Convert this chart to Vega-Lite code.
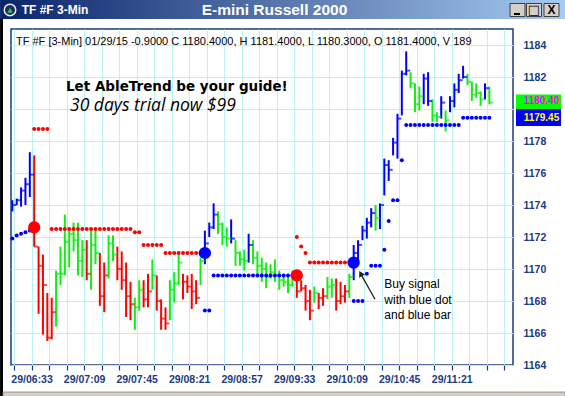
{
  "$schema": "https://vega.github.io/schema/vega-lite/v6.json",
  "width": 502,
  "height": 336,
  "autosize": {"type": "none"},
  "padding": {"left": 11, "top": 29, "right": 52, "bottom": 31},
  "background": "#ffffff",
  "config": {
    "view": {"stroke": "#1b3a80", "strokeWidth": 1.5},
    "font": "Liberation Sans",
    "axisX": {"domain": false, "grid": true, "gridColor": "#bdf2f2", "gridWidth": 1, "ticks": true, "tickSize": 5, "tickColor": "#1b3a80", "tickWidth": 1.2,
      "labelFont": "Liberation Sans", "labelFontWeight": "bold", "labelFontSize": 10.5, "labelColor": "#1b3a80", "labelPadding": 4, "labelOverlap": false, "labelFlush": false, "title": null},
    "axisY": {"domain": false, "grid": true, "gridColor": "#bdf2f2", "gridWidth": 1, "ticks": false,
      "labelFont": "Liberation Sans", "labelFontWeight": "bold", "labelFontSize": 10.5, "labelColor": "#1b3a80", "labelAlign": "left", "labelBaseline": "middle", "labelPadding": 10, "labelFlush": false, "title": null}
  },
  "datasets": {
    "bars": [
      {"i": -5, "h": 1174.3, "l": 1173.6, "c": 1174.0, "t": "up"},
      {"i": -4, "h": 1174.4, "l": 1174.0, "c": 1174.3, "t": "up"},
      {"i": -3, "h": 1175.1, "l": 1173.9, "c": 1174.9, "t": "up"},
      {"i": -2, "h": 1175.7, "l": 1174.0, "c": 1175.3, "t": "up"},
      {"i": -1, "h": 1177.3, "l": 1174.5, "c": 1175.9, "t": "up"},
      {"i": 0, "h": 1177.1, "l": 1171.4, "c": 1171.4, "t": "down"},
      {"i": 1, "h": 1171.4, "l": 1167.2, "c": 1170.2, "t": "down"},
      {"i": 2, "h": 1170.9, "l": 1165.9, "c": 1169.0, "t": "down"},
      {"i": 3, "h": 1168.5, "l": 1165.5, "c": 1165.7, "t": "down"},
      {"i": 4, "h": 1168.2, "l": 1165.6, "c": 1167.3, "t": "down"},
      {"i": 5, "h": 1169.9, "l": 1166.4, "c": 1169.7, "t": "flat"},
      {"i": 6, "h": 1171.4, "l": 1169.0, "c": 1169.7, "t": "flat"},
      {"i": 7, "h": 1173.4, "l": 1169.6, "c": 1171.7, "t": "flat"},
      {"i": 8, "h": 1172.6, "l": 1170.1, "c": 1172.2, "t": "flat"},
      {"i": 9, "h": 1172.9, "l": 1171.1, "c": 1171.8, "t": "flat"},
      {"i": 10, "h": 1172.9, "l": 1169.6, "c": 1170.5, "t": "flat"},
      {"i": 11, "h": 1171.8, "l": 1169.5, "c": 1171.2, "t": "flat"},
      {"i": 12, "h": 1171.8, "l": 1169.3, "c": 1169.7, "t": "down"},
      {"i": 13, "h": 1172.5, "l": 1168.7, "c": 1171.5, "t": "flat"},
      {"i": 14, "h": 1172.4, "l": 1170.3, "c": 1171.0, "t": "flat"},
      {"i": 15, "h": 1171.0, "l": 1167.7, "c": 1168.3, "t": "down"},
      {"i": 16, "h": 1170.4, "l": 1167.3, "c": 1169.6, "t": "down"},
      {"i": 17, "h": 1172.1, "l": 1169.4, "c": 1171.6, "t": "flat"},
      {"i": 18, "h": 1172.1, "l": 1170.5, "c": 1170.9, "t": "flat"},
      {"i": 19, "h": 1171.4, "l": 1169.3, "c": 1170.0, "t": "down"},
      {"i": 20, "h": 1171.1, "l": 1168.7, "c": 1169.3, "t": "down"},
      {"i": 21, "h": 1170.4, "l": 1167.0, "c": 1168.3, "t": "down"},
      {"i": 22, "h": 1169.2, "l": 1166.8, "c": 1167.8, "t": "down"},
      {"i": 23, "h": 1168.2, "l": 1166.2, "c": 1167.6, "t": "flat"},
      {"i": 24, "h": 1169.3, "l": 1167.4, "c": 1168.7, "t": "flat"},
      {"i": 25, "h": 1169.3, "l": 1167.6, "c": 1168.1, "t": "down"},
      {"i": 26, "h": 1169.7, "l": 1167.6, "c": 1168.6, "t": "down"},
      {"i": 27, "h": 1170.6, "l": 1168.7, "c": 1169.6, "t": "flat"},
      {"i": 28, "h": 1169.6, "l": 1167.4, "c": 1168.0, "t": "down"},
      {"i": 29, "h": 1168.1, "l": 1166.2, "c": 1166.9, "t": "down"},
      {"i": 30, "h": 1167.6, "l": 1166.2, "c": 1166.6, "t": "down"},
      {"i": 31, "h": 1169.3, "l": 1166.8, "c": 1168.7, "t": "flat"},
      {"i": 32, "h": 1169.8, "l": 1167.9, "c": 1169.1, "t": "flat"},
      {"i": 33, "h": 1171.1, "l": 1169.0, "c": 1170.4, "t": "flat"},
      {"i": 34, "h": 1169.7, "l": 1168.1, "c": 1169.2, "t": "down"},
      {"i": 35, "h": 1169.6, "l": 1168.5, "c": 1168.9, "t": "down"},
      {"i": 36, "h": 1169.7, "l": 1167.5, "c": 1168.6, "t": "down"},
      {"i": 37, "h": 1169.3, "l": 1167.8, "c": 1168.2, "t": "down"},
      {"i": 38, "h": 1170.7, "l": 1169.0, "c": 1170.5, "t": "flat"},
      {"i": 39, "h": 1172.4, "l": 1170.3, "c": 1171.6, "t": "up"},
      {"i": 40, "h": 1172.9, "l": 1172.0, "c": 1172.6, "t": "up"},
      {"i": 41, "h": 1174.1, "l": 1172.5, "c": 1173.4, "t": "up"},
      {"i": 42, "h": 1173.6, "l": 1172.2, "c": 1172.8, "t": "flat"},
      {"i": 43, "h": 1172.9, "l": 1171.5, "c": 1172.0, "t": "flat"},
      {"i": 44, "h": 1172.6, "l": 1171.4, "c": 1171.9, "t": "flat"},
      {"i": 45, "h": 1173.1, "l": 1171.6, "c": 1171.9, "t": "up"},
      {"i": 46, "h": 1171.8, "l": 1170.2, "c": 1171.0, "t": "flat"},
      {"i": 47, "h": 1171.1, "l": 1170.2, "c": 1170.6, "t": "flat"},
      {"i": 48, "h": 1171.2, "l": 1169.9, "c": 1170.5, "t": "flat"},
      {"i": 49, "h": 1172.2, "l": 1170.4, "c": 1171.5, "t": "up"},
      {"i": 50, "h": 1171.8, "l": 1170.3, "c": 1170.7, "t": "flat"},
      {"i": 51, "h": 1171.1, "l": 1169.7, "c": 1170.2, "t": "flat"},
      {"i": 52, "h": 1170.7, "l": 1169.2, "c": 1170.0, "t": "flat"},
      {"i": 53, "h": 1170.4, "l": 1168.8, "c": 1169.5, "t": "flat"},
      {"i": 54, "h": 1170.3, "l": 1169.4, "c": 1169.8, "t": "flat"},
      {"i": 55, "h": 1170.6, "l": 1169.2, "c": 1169.6, "t": "flat"},
      {"i": 56, "h": 1169.9, "l": 1168.7, "c": 1169.3, "t": "flat"},
      {"i": 57, "h": 1169.7, "l": 1168.9, "c": 1169.2, "t": "flat"},
      {"i": 58, "h": 1169.6, "l": 1168.5, "c": 1169.0, "t": "flat"},
      {"i": 59, "h": 1169.9, "l": 1168.9, "c": 1169.4, "t": "flat"},
      {"i": 60, "h": 1169.9, "l": 1168.2, "c": 1168.6, "t": "down"},
      {"i": 61, "h": 1169.3, "l": 1168.6, "c": 1168.8, "t": "down"},
      {"i": 62, "h": 1169.0, "l": 1167.4, "c": 1168.0, "t": "down"},
      {"i": 63, "h": 1168.7, "l": 1166.8, "c": 1167.4, "t": "down"},
      {"i": 64, "h": 1168.9, "l": 1167.9, "c": 1168.5, "t": "flat"},
      {"i": 65, "h": 1168.5, "l": 1167.5, "c": 1168.2, "t": "down"},
      {"i": 66, "h": 1168.8, "l": 1167.7, "c": 1168.3, "t": "down"},
      {"i": 67, "h": 1169.5, "l": 1168.1, "c": 1168.9, "t": "flat"},
      {"i": 68, "h": 1169.4, "l": 1168.2, "c": 1169.0, "t": "flat"},
      {"i": 69, "h": 1169.4, "l": 1167.4, "c": 1168.0, "t": "down"},
      {"i": 70, "h": 1169.2, "l": 1167.8, "c": 1168.3, "t": "down"},
      {"i": 71, "h": 1169.0, "l": 1167.9, "c": 1168.6, "t": "down"},
      {"i": 72, "h": 1169.7, "l": 1168.2, "c": 1169.5, "t": "flat"},
      {"i": 73, "h": 1171.5, "l": 1169.3, "c": 1171.0, "t": "up"},
      {"i": 74, "h": 1171.8, "l": 1170.3, "c": 1171.5, "t": "up"},
      {"i": 75, "h": 1172.7, "l": 1171.8, "c": 1172.4, "t": "up"},
      {"i": 76, "h": 1173.2, "l": 1171.9, "c": 1172.9, "t": "up"},
      {"i": 77, "h": 1173.8, "l": 1172.6, "c": 1173.5, "t": "up"},
      {"i": 78, "h": 1174.0, "l": 1172.4, "c": 1173.2, "t": "flat"},
      {"i": 79, "h": 1174.1, "l": 1172.5, "c": 1174.0, "t": "up"},
      {"i": 80, "h": 1176.9, "l": 1174.6, "c": 1176.5, "t": "up"},
      {"i": 81, "h": 1176.8, "l": 1175.5, "c": 1176.2, "t": "up"},
      {"i": 82, "h": 1178.2, "l": 1177.1, "c": 1177.9, "t": "up"},
      {"i": 83, "h": 1179.7, "l": 1176.9, "c": 1179.4, "t": "up"},
      {"i": 84, "h": 1182.4, "l": 1179.6, "c": 1182.2, "t": "up"},
      {"i": 85, "h": 1183.6, "l": 1182.1, "c": 1182.4, "t": "up"},
      {"i": 86, "h": 1182.3, "l": 1181.3, "c": 1181.6, "t": "flat"},
      {"i": 87, "h": 1181.6, "l": 1179.8, "c": 1180.3, "t": "flat"},
      {"i": 88, "h": 1181.4, "l": 1179.9, "c": 1180.8, "t": "flat"},
      {"i": 89, "h": 1182.2, "l": 1180.3, "c": 1181.9, "t": "up"},
      {"i": 90, "h": 1182.3, "l": 1180.2, "c": 1180.5, "t": "up"},
      {"i": 91, "h": 1180.6, "l": 1179.2, "c": 1179.6, "t": "flat"},
      {"i": 92, "h": 1179.8, "l": 1179.2, "c": 1179.5, "t": "flat"},
      {"i": 93, "h": 1180.8, "l": 1179.4, "c": 1180.4, "t": "up"},
      {"i": 94, "h": 1179.9, "l": 1178.6, "c": 1179.3, "t": "flat"},
      {"i": 95, "h": 1180.8, "l": 1179.8, "c": 1180.5, "t": "up"},
      {"i": 96, "h": 1181.6, "l": 1180.1, "c": 1181.2, "t": "up"},
      {"i": 97, "h": 1182.2, "l": 1181.0, "c": 1181.8, "t": "up"},
      {"i": 98, "h": 1182.7, "l": 1181.9, "c": 1182.0, "t": "up"},
      {"i": 99, "h": 1182.2, "l": 1181.5, "c": 1181.7, "t": "flat"},
      {"i": 100, "h": 1181.7, "l": 1180.5, "c": 1180.9, "t": "flat"},
      {"i": 101, "h": 1181.6, "l": 1180.7, "c": 1181.0, "t": "flat"},
      {"i": 102, "h": 1181.1, "l": 1180.2, "c": 1180.6, "t": "flat"},
      {"i": 103, "h": 1181.6, "l": 1180.6, "c": 1181.3, "t": "up"},
      {"i": 104, "h": 1181.4, "l": 1180.3, "c": 1180.4, "t": "flat"}
    ],
    "dots": [
      {"i": -5, "v": 1171.9, "t": "up"}, {"i": -4, "v": 1172.1, "t": "up"}, {"i": -3, "v": 1172.2, "t": "up"}, {"i": -2, "v": 1172.3, "t": "up"}, {"i": -1, "v": 1172.4, "t": "up"},
      {"i": 0, "v": 1178.75, "t": "down"}, {"i": 1, "v": 1178.75, "t": "down"}, {"i": 2, "v": 1178.75, "t": "down"}, {"i": 3, "v": 1178.75, "t": "down"},
      {"i": 4, "v": 1172.5, "t": "down"}, {"i": 5, "v": 1172.5, "t": "down"}, {"i": 6, "v": 1172.5, "t": "down"}, {"i": 7, "v": 1172.5, "t": "down"}, {"i": 8, "v": 1172.5, "t": "down"}, {"i": 9, "v": 1172.5, "t": "down"}, {"i": 10, "v": 1172.5, "t": "down"}, {"i": 11, "v": 1172.5, "t": "down"}, {"i": 12, "v": 1172.5, "t": "down"}, {"i": 13, "v": 1172.5, "t": "down"}, {"i": 14, "v": 1172.5, "t": "down"}, {"i": 15, "v": 1172.5, "t": "down"}, {"i": 16, "v": 1172.5, "t": "down"}, {"i": 17, "v": 1172.5, "t": "down"}, {"i": 18, "v": 1172.5, "t": "down"}, {"i": 19, "v": 1172.5, "t": "down"}, {"i": 20, "v": 1172.5, "t": "down"}, {"i": 21, "v": 1172.5, "t": "down"}, {"i": 22, "v": 1172.5, "t": "down"},
      {"i": 23, "v": 1172.3, "t": "down"}, {"i": 24, "v": 1172.3, "t": "down"},
      {"i": 25, "v": 1171.5, "t": "down"}, {"i": 26, "v": 1171.5, "t": "down"}, {"i": 27, "v": 1171.5, "t": "down"}, {"i": 28, "v": 1171.5, "t": "down"}, {"i": 29, "v": 1171.5, "t": "down"},
      {"i": 30, "v": 1171.0, "t": "down"}, {"i": 31, "v": 1171.0, "t": "down"}, {"i": 32, "v": 1171.0, "t": "down"}, {"i": 33, "v": 1171.0, "t": "down"}, {"i": 34, "v": 1171.0, "t": "down"}, {"i": 35, "v": 1171.0, "t": "down"}, {"i": 36, "v": 1171.0, "t": "down"}, {"i": 37, "v": 1171.0, "t": "down"}, {"i": 38, "v": 1171.0, "t": "down"},
      {"i": 39, "v": 1167.4, "t": "up"}, {"i": 40, "v": 1167.4, "t": "up"},
      {"i": 41, "v": 1169.6, "t": "up"}, {"i": 42, "v": 1169.6, "t": "up"}, {"i": 43, "v": 1169.6, "t": "up"}, {"i": 44, "v": 1169.6, "t": "up"}, {"i": 45, "v": 1169.6, "t": "up"}, {"i": 46, "v": 1169.6, "t": "up"}, {"i": 47, "v": 1169.6, "t": "up"}, {"i": 48, "v": 1169.6, "t": "up"}, {"i": 49, "v": 1169.6, "t": "up"}, {"i": 50, "v": 1169.6, "t": "up"}, {"i": 51, "v": 1169.6, "t": "up"}, {"i": 52, "v": 1169.6, "t": "up"}, {"i": 53, "v": 1169.6, "t": "up"}, {"i": 54, "v": 1169.6, "t": "up"}, {"i": 55, "v": 1169.6, "t": "up"}, {"i": 56, "v": 1169.6, "t": "up"}, {"i": 57, "v": 1169.6, "t": "up"}, {"i": 58, "v": 1169.6, "t": "up"}, {"i": 59, "v": 1169.6, "t": "up"},
      {"i": 60, "v": 1172.0, "t": "down"}, {"i": 61, "v": 1171.4, "t": "down"}, {"i": 62, "v": 1171.0, "t": "down"},
      {"i": 63, "v": 1170.4, "t": "down"}, {"i": 64, "v": 1170.4, "t": "down"}, {"i": 65, "v": 1170.4, "t": "down"}, {"i": 66, "v": 1170.4, "t": "down"}, {"i": 67, "v": 1170.4, "t": "down"}, {"i": 68, "v": 1170.4, "t": "down"}, {"i": 69, "v": 1170.4, "t": "down"}, {"i": 70, "v": 1170.4, "t": "down"}, {"i": 71, "v": 1170.4, "t": "down"}, {"i": 72, "v": 1170.4, "t": "down"},
      {"i": 73, "v": 1168.0, "t": "up"}, {"i": 74, "v": 1168.0, "t": "up"}, {"i": 75, "v": 1168.0, "t": "up"}, {"i": 76, "v": 1169.7, "t": "up"},
      {"i": 77, "v": 1170.2, "t": "up"}, {"i": 78, "v": 1170.2, "t": "up"}, {"i": 79, "v": 1170.2, "t": "up"}, {"i": 80, "v": 1171.2, "t": "up"}, {"i": 81, "v": 1173.0, "t": "up"},
      {"i": 82, "v": 1174.3, "t": "up"}, {"i": 83, "v": 1174.3, "t": "up"}, {"i": 84, "v": 1176.8, "t": "up"},
      {"i": 85, "v": 1179.0, "t": "up"}, {"i": 86, "v": 1179.0, "t": "up"}, {"i": 87, "v": 1179.0, "t": "up"}, {"i": 88, "v": 1179.0, "t": "up"}, {"i": 89, "v": 1179.0, "t": "up"}, {"i": 90, "v": 1179.0, "t": "up"}, {"i": 91, "v": 1179.0, "t": "up"}, {"i": 92, "v": 1179.0, "t": "up"}, {"i": 93, "v": 1179.0, "t": "up"}, {"i": 94, "v": 1179.0, "t": "up"}, {"i": 95, "v": 1179.0, "t": "up"}, {"i": 96, "v": 1179.0, "t": "up"}, {"i": 97, "v": 1179.0, "t": "up"},
      {"i": 98, "v": 1179.45, "t": "up"}, {"i": 99, "v": 1179.45, "t": "up"}, {"i": 100, "v": 1179.45, "t": "up"}, {"i": 101, "v": 1179.45, "t": "up"}, {"i": 102, "v": 1179.45, "t": "up"}, {"i": 103, "v": 1179.45, "t": "up"}, {"i": 104, "v": 1179.45, "t": "up"}
    ],
    "signals": [
      {"i": 0, "v": 1172.6, "t": "down"},
      {"i": 39, "v": 1171.0, "t": "up"},
      {"i": 60, "v": 1169.6, "t": "down"},
      {"i": 73, "v": 1170.4, "t": "up"}
    ]
  },
  "encoding": {
    "x": {"type": "quantitative", "title": null, "scale": {"domain": [-5.3, 109.4], "nice": false, "zero": false},
      "axis": {"title": null, "orient": "bottom",
        "values": [-4.6, -0.6, 3.4, 7.4, 11.4, 15.4, 19.4, 23.4, 27.4, 31.4, 35.4, 39.4, 43.4, 47.4, 51.4, 55.4, 59.4, 63.4, 67.4, 71.4, 75.4, 79.4, 83.4, 87.4, 91.4, 95.4, 99.4, 103.4, 107.4],
        "labelExpr": "(round(datum.value + 0.6) % 12 == 0 && datum.value > -1 && datum.value < 100) ? '29/' + pad(floor((393 + 3 * round(datum.value + 0.6)) / 60), 2, '0', 'left') + ':' + pad((393 + 3 * round(datum.value + 0.6)) % 60, 2, '0', 'left') : ''"}},
    "y": {"type": "quantitative", "title": null, "scale": {"domain": [1164, 1185], "nice": false, "zero": false},
      "axis": {"title": null, "orient": "right", "format": "d", "values": [1164, 1166, 1168, 1170, 1172, 1174, 1176, 1178, 1180, 1182, 1184],
        "labelExpr": "datum.value == 1180 ? '' : datum.label"}}
  },
  "layer": [
    {
      "data": {"name": "bars"},
      "mark": {"type": "rule", "strokeWidth": 2},
      "encoding": {
        "x": {"field": "i", "type": "quantitative"},
        "y": {"field": "l", "type": "quantitative"},
        "y2": {"field": "h"},
        "color": {"field": "t", "type": "nominal", "scale": {"domain": ["up", "down", "flat"], "range": ["#0000ff", "#ff0000", "#11ee11"]}, "legend": null}
      }
    },
    {
      "data": {"name": "bars"},
      "mark": {"type": "tick", "orient": "horizontal", "size": 4, "thickness": 2, "xOffset": 2},
      "encoding": {
        "x": {"field": "i", "type": "quantitative"},
        "y": {"field": "c", "type": "quantitative"},
        "color": {"field": "t", "type": "nominal", "legend": null}
      }
    },
    {
      "data": {"name": "dots"},
      "mark": {"type": "point", "shape": "circle", "filled": true, "size": 16, "opacity": 1},
      "encoding": {
        "x": {"field": "i", "type": "quantitative"},
        "y": {"field": "v", "type": "quantitative"},
        "color": {"field": "t", "type": "nominal", "legend": null}
      }
    },
    {
      "data": {"name": "signals"},
      "mark": {"type": "point", "shape": "circle", "filled": true, "size": 150, "opacity": 1},
      "encoding": {
        "x": {"field": "i", "type": "quantitative"},
        "y": {"field": "v", "type": "quantitative"},
        "color": {"field": "t", "type": "nominal", "legend": null}
      }
    },
    {
      "data": {"values": [{}]},
      "mark": {"type": "text", "text": "TF #F [3-Min] 01/29/15  -0.9000 C 1180.4000, H 1181.4000, L 1180.3000, O 1181.4000, V 189", "align": "left", "baseline": "alphabetic", "font": "Liberation Sans", "fontSize": 11, "color": "#000000"},
      "encoding": {"x": {"datum": -4.16}, "y": {"datum": 1184.03}}
    },
    {
      "data": {"values": [{}]},
      "mark": {"type": "text", "text": "Let AbleTrend be your guide!", "align": "left", "baseline": "alphabetic", "font": "DejaVu Sans", "fontWeight": "bold", "fontSize": 13.5, "color": "#000000"},
      "encoding": {"x": {"datum": 7.27}, "y": {"datum": 1181.12}}
    },
    {
      "data": {"values": [{}]},
      "mark": {"type": "text", "text": "30 days trial now $99", "align": "left", "baseline": "alphabetic", "font": "Open Sans", "fontStyle": "italic", "fontSize": 17.5, "color": "#000000"},
      "encoding": {"x": {"datum": 8.18}, "y": {"datum": 1179.85}}
    },
    {
      "data": {"values": [{}]},
      "mark": {"type": "text", "text": ["Buy signal", "with blue dot", "and blue bar"], "lineHeight": 15.5, "align": "left", "baseline": "alphabetic", "font": "Liberation Sans", "fontSize": 12, "color": "#000000"},
      "encoding": {"x": {"datum": 80.0}, "y": {"datum": 1168.81}}
    },
    {
      "data": {"values": [{}]},
      "mark": {"type": "rule", "color": "#222222", "strokeWidth": 1.3},
      "encoding": {"x": {"datum": 77.87}, "y": {"datum": 1168.11}, "x2": {"datum": 74.67}, "y2": {"datum": 1169.66}}
    },
    {
      "data": {"values": [{}]},
      "mark": {"type": "point", "shape": "triangle-up", "angle": 331, "size": 45, "filled": true, "color": "#222222", "opacity": 1},
      "encoding": {"x": {"datum": 74.6}, "y": {"datum": 1169.72}}
    },
    {
      "data": {"values": [{}]},
      "mark": {"type": "rect", "color": "#00ff00"},
      "encoding": {"x": {"datum": 110.09}, "x2": {"datum": 120.37}, "y": {"datum": 1180.906}, "y2": {"datum": 1180.0}}
    },
    {
      "data": {"values": [{}]},
      "mark": {"type": "rect", "color": "#0000ff"},
      "encoding": {"x": {"datum": 110.09}, "x2": {"datum": 120.37}, "y": {"datum": 1180.0}, "y2": {"datum": 1178.94}}
    },
    {
      "data": {"values": [{}]},
      "mark": {"type": "text", "text": "1180.40", "align": "center", "baseline": "middle", "font": "Liberation Sans", "fontWeight": "bold", "fontSize": 10, "color": "#ff00ff"},
      "encoding": {"x": {"datum": 115.9}, "y": {"datum": 1180.47}}
    },
    {
      "data": {"values": [{}]},
      "mark": {"type": "text", "text": "1179.45", "align": "center", "baseline": "middle", "font": "Liberation Sans", "fontWeight": "bold", "fontSize": 10, "color": "#ffff00"},
      "encoding": {"x": {"datum": 115.9}, "y": {"datum": 1179.45}}
    },
    {
      "data": {"values": [{}]},
      "mark": {"type": "rect", "color": {"gradient": "linear", "x1": 0, "y1": 0, "x2": 1, "y2": 0, "stops": [{"offset": 0, "color": "#0a246a"}, {"offset": 1, "color": "#a6caf0"}]}},
      "encoding": {"x": {"datum": -7.8}, "x2": {"datum": 121.3}, "y": {"datum": 1186.85}, "y2": {"datum": 1185.625}}
    },
    {
      "data": {"values": [{}]},
      "mark": {"type": "rect", "color": "#000000"},
      "encoding": {"x": {"datum": -7.8}, "x2": {"datum": -7.13}, "y": {"datum": 1185.625}, "y2": {"datum": 1162.0}}
    },
    {
      "data": {"values": [{}]},
      "mark": {"type": "rect", "color": "#d4d0c8", "stroke": "#808080", "strokeWidth": 0.8},
      "encoding": {"x": {"datum": -7.13}, "x2": {"datum": 121.3}, "y": {"datum": 1162.31}, "y2": {"datum": 1162.0}}
    },
    {
      "data": {"values": [{}]},
      "mark": {"type": "point", "shape": "circle", "filled": true, "size": 170, "color": "#e8e8e8", "opacity": 1},
      "encoding": {"x": {"datum": -5.53}, "y": {"datum": 1186.19}}
    },
    {
      "data": {"values": [{}]},
      "mark": {"type": "point", "shape": "circle", "filled": true, "size": 100, "color": "#1d2f5e", "opacity": 1},
      "encoding": {"x": {"datum": -5.53}, "y": {"datum": 1186.19}}
    },
    {
      "data": {"values": [{}]},
      "mark": {"type": "point", "shape": "triangle-up", "filled": true, "size": 30, "color": "#3cc43c", "opacity": 1},
      "encoding": {"x": {"datum": -5.53}, "y": {"datum": 1186.17}}
    },
    {
      "data": {"values": [{}]},
      "mark": {"type": "text", "text": "TF #F 3-Min", "align": "left", "baseline": "middle", "font": "Liberation Sans", "fontWeight": "bold", "fontSize": 12, "color": "#ffffff"},
      "encoding": {"x": {"datum": -2.86}, "y": {"datum": 1186.19}}
    },
    {
      "data": {"values": [{}]},
      "mark": {"type": "text", "text": "E-mini Russell 2000", "align": "center", "baseline": "middle", "font": "Liberation Sans", "fontWeight": "bold", "fontSize": 15.5, "color": "#ffffff"},
      "encoding": {"x": {"datum": 54.9}, "y": {"datum": 1186.19}}
    },
    {
      "data": {"values": [{}]},
      "mark": {"type": "rect", "color": "#d4d0c8", "stroke": "#404040", "strokeWidth": 1},
      "encoding": {"x": {"datum": 108.72}, "x2": {"datum": 112.14}, "y": {"datum": 1186.594}, "y2": {"datum": 1185.781}}
    },
    {
      "data": {"values": [{}]},
      "mark": {"type": "rect", "color": "#d4d0c8", "stroke": "#404040", "strokeWidth": 1},
      "encoding": {"x": {"datum": 112.48}, "x2": {"datum": 115.91}, "y": {"datum": 1186.594}, "y2": {"datum": 1185.781}}
    },
    {
      "data": {"values": [{}]},
      "mark": {"type": "rect", "color": "#d4d0c8", "stroke": "#404040", "strokeWidth": 1},
      "encoding": {"x": {"datum": 116.48}, "x2": {"datum": 119.91}, "y": {"datum": 1186.594}, "y2": {"datum": 1185.781}}
    },
    {
      "data": {"values": [{}]},
      "mark": {"type": "rect", "color": "#000000"},
      "encoding": {"x": {"datum": 109.63}, "x2": {"datum": 111.0}, "y": {"datum": 1186.0}, "y2": {"datum": 1185.875}}
    },
    {
      "data": {"values": [{}]},
      "mark": {"type": "text", "text": "□", "align": "center", "baseline": "middle", "font": "DejaVu Sans", "fontWeight": "bold", "fontSize": 13, "color": "#000000"},
      "encoding": {"x": {"datum": 114.2}, "y": {"datum": 1186.2}}
    },
    {
      "data": {"values": [{}]},
      "mark": {"type": "text", "text": "X", "align": "center", "baseline": "middle", "font": "Liberation Sans", "fontWeight": "bold", "fontSize": 12, "color": "#000000"},
      "encoding": {"x": {"datum": 118.2}, "y": {"datum": 1186.19}}
    }
  ]
}
